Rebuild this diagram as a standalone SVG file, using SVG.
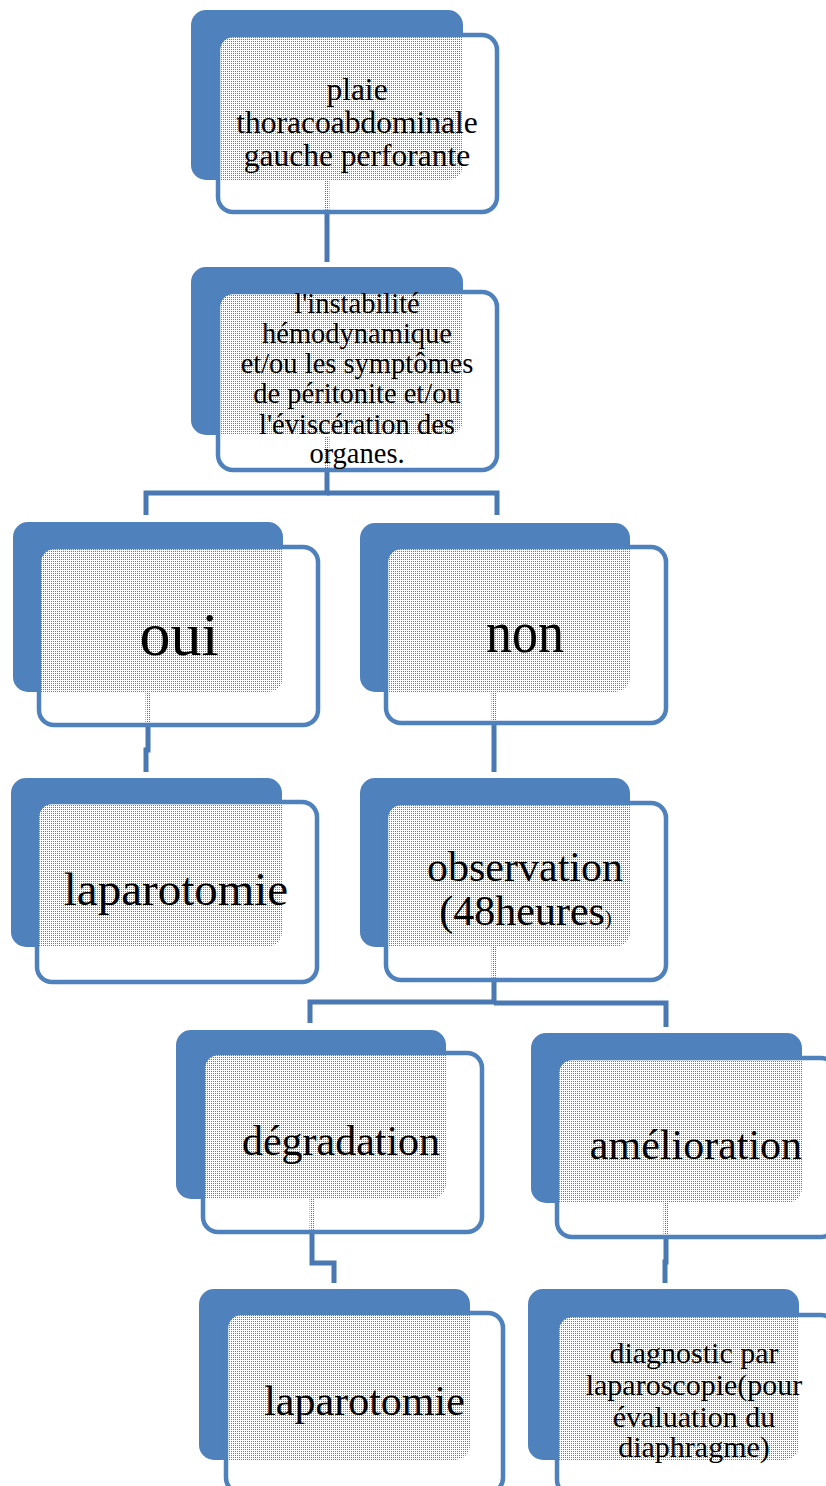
<svg xmlns="http://www.w3.org/2000/svg" width="826" height="1486" viewBox="0 0 826 1486">
<defs>
<pattern id="dots" x="0" y="0" width="2" height="2" patternUnits="userSpaceOnUse">
<path d="M0,0h2v1h-1v1h-1z" fill="#ffffff"/>
</pattern>
<style>
.back{fill:#4f81bd;}
.front{fill:url(#dots);stroke:#4f81bd;stroke-width:4.5;}
.conn{fill:none;stroke:#4a78b2;stroke-width:5;stroke-linejoin:miter;}
text{font-family:"Liberation Serif","Times New Roman",serif;fill:#000;text-anchor:middle;}
</style>
</defs>
<rect width="826" height="1486" fill="#ffffff"/>
<g id="connectors">
<path class="conn" d="M327,180 V262"/>
<path class="conn" d="M327,436 V493 H146 V515"/>
<path class="conn" d="M327,493 H497 V515"/>
<path class="conn" d="M148,692 V750 H146 V772"/>
<path class="conn" d="M494,692 V772"/>
<path class="conn" d="M494,947 V1002 H310 V1023"/>
<path class="conn" d="M494,1003 H666 V1027"/>
<path class="conn" d="M312,1199 V1263 H334 V1283"/>
<path class="conn" d="M666,1203 V1262 H665 V1283"/>
</g>
<g id="node-plaie">
<rect class="back" x="191" y="10" width="272" height="170" rx="15"/>
<rect class="front" x="218" y="35" width="279" height="177" rx="15"/>
<text font-size="31.5"><tspan x="357" y="100">plaie</tspan><tspan x="357" y="133">thoracoabdominale</tspan><tspan x="357" y="166">gauche perforante</tspan></text>
</g>
<g id="node-instabilite">
<rect class="back" x="191" y="267" width="272" height="168" rx="15"/>
<rect class="front" x="218" y="292" width="279" height="178" rx="15"/>
<text font-size="28.5"><tspan x="357" y="313">l'instabilité</tspan><tspan x="357" y="343">hémodynamique</tspan><tspan x="357" y="373">et/ou les symptômes</tspan><tspan x="357" y="403">de péritonite et/ou</tspan><tspan x="357" y="434">l'éviscération des</tspan><tspan x="357" y="463">organes.</tspan></text>
</g>
<g id="node-oui">
<rect class="back" x="13" y="522" width="270" height="170" rx="15"/>
<rect class="front" x="39" y="547" width="279" height="178" rx="15"/>
<text font-size="62" x="179" y="655">oui</text>
</g>
<g id="node-non">
<rect class="back" x="360" y="523" width="270" height="169" rx="15"/>
<rect class="front" x="386" y="547" width="280" height="176" rx="15"/>
<text font-size="60" x="525" y="652" textLength="78" lengthAdjust="spacingAndGlyphs">non</text>
</g>
<g id="node-laparotomie-1">
<rect class="back" x="11" y="778" width="271" height="169" rx="15"/>
<rect class="front" x="37" y="802" width="280" height="180" rx="15"/>
<text font-size="47" x="176" y="905">laparotomie</text>
</g>
<g id="node-observation">
<rect class="back" x="360" y="778" width="270" height="169" rx="15"/>
<rect class="front" x="386" y="803" width="280" height="177" rx="15"/>
<text font-size="42"><tspan x="525" y="881">observation</tspan><tspan x="525.5" y="925">(48heures<tspan font-size="20">)</tspan></tspan></text>
</g>
<g id="node-degradation">
<rect class="back" x="176" y="1030" width="270" height="169" rx="15"/>
<rect class="front" x="203" y="1053" width="279" height="179" rx="15"/>
<text font-size="42" x="341" y="1155">dégradation</text>
</g>
<g id="node-amelioration">
<rect class="back" x="531" y="1033" width="271" height="170" rx="15"/>
<rect class="front" x="557" y="1058" width="279" height="179" rx="15"/>
<text font-size="42" x="696" y="1159">amélioration</text>
</g>
<g id="node-laparotomie-2">
<rect class="back" x="199" y="1289" width="271" height="171" rx="15"/>
<rect class="front" x="226" y="1313" width="277" height="180" rx="15"/>
<text font-size="42" x="364.5" y="1415">laparotomie</text>
</g>
<g id="node-diagnostic">
<rect class="back" x="528" y="1289" width="271" height="171" rx="15"/>
<rect class="front" x="557" y="1315" width="279" height="180" rx="15"/>
<text font-size="30"><tspan x="694" y="1363">diagnostic par</tspan><tspan x="694" y="1395">laparoscopie(pour</tspan><tspan x="694" y="1427">évaluation du</tspan><tspan x="694" y="1457">diaphragme)</tspan></text>
</g>
</svg>
